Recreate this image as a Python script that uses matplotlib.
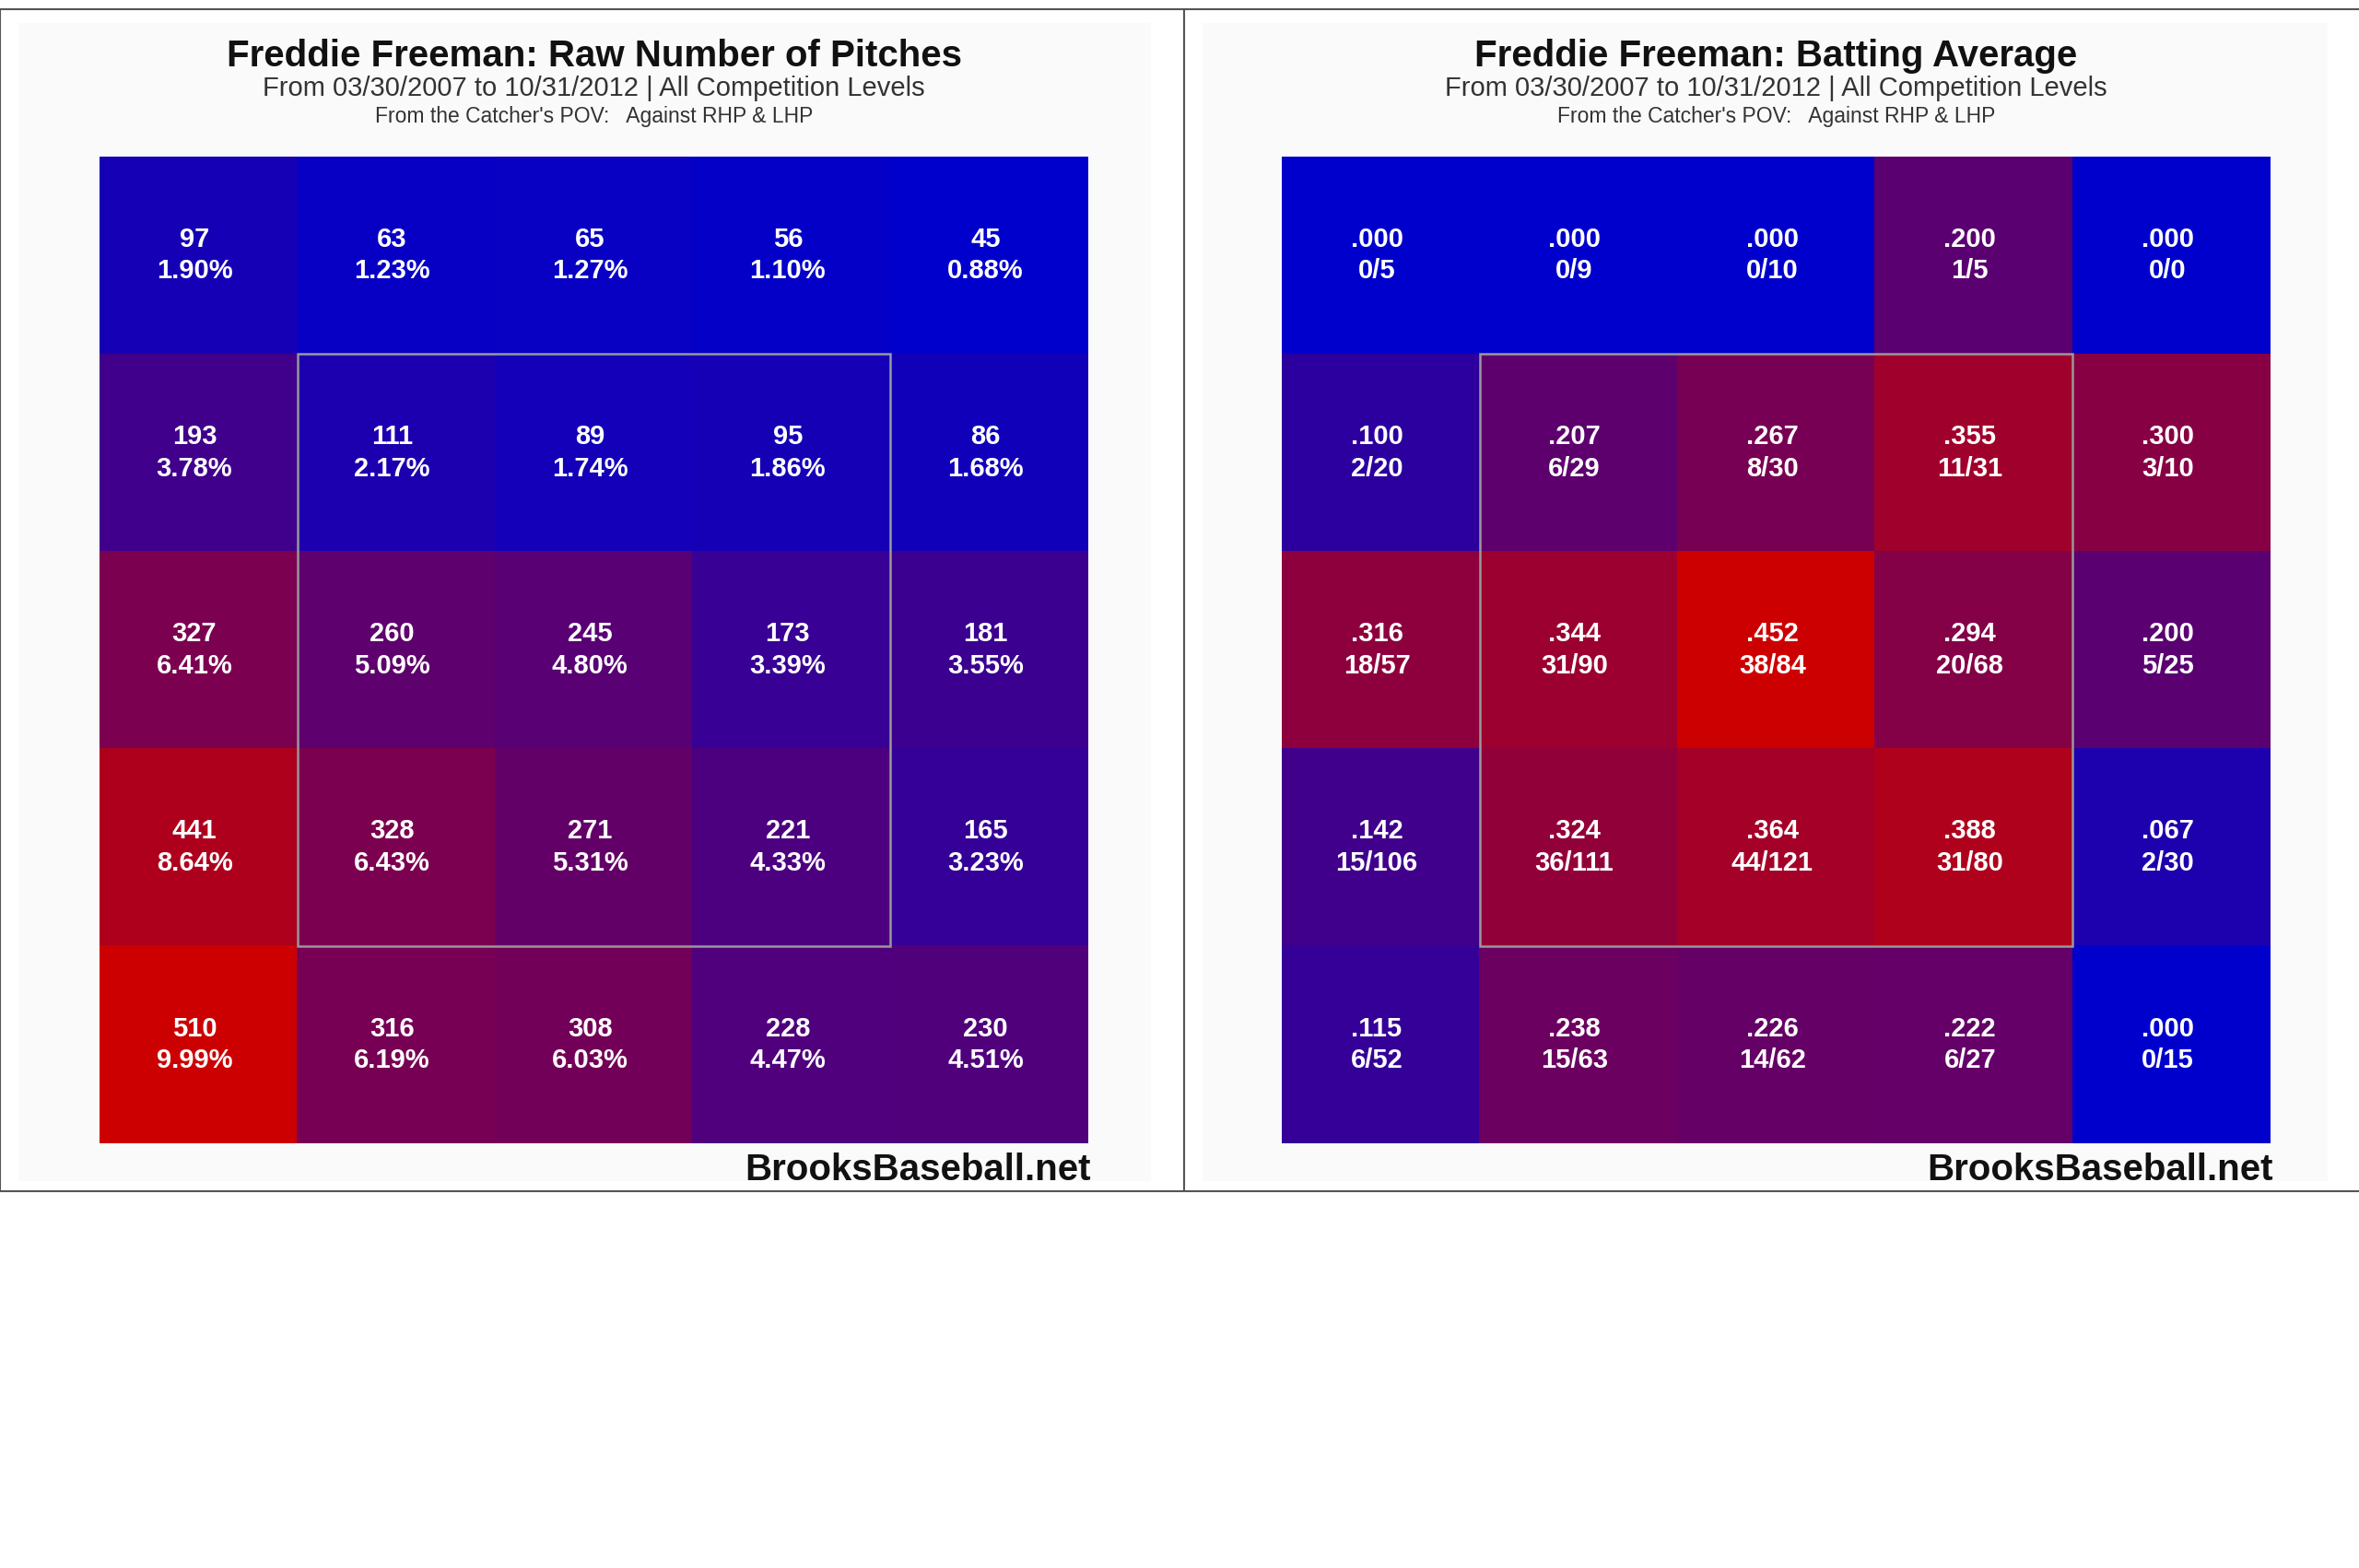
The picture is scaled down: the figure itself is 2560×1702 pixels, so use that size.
"""Freddie Freeman strike-zone heat maps (BrooksBaseball style)"""
import matplotlib
matplotlib.use("Agg")
import matplotlib.pyplot as plt
from matplotlib.colors import LinearSegmentedColormap
from matplotlib.patches import Rectangle
import numpy as np

plt.rcParams['font.family'] = ['Liberation Sans', 'DejaVu Sans']

player = "Freddie Freeman"
date_range = "From 03/30/2007 to 10/31/2012 | All Competition Levels"
pov_line = "From the Catcher's POV:   Against RHP & LHP"
credit = "BrooksBaseball.net"

# rows top -> bottom, columns left -> right (catcher's view)
pitch_counts = [
    [97, 63, 65, 56, 45],
    [193, 111, 89, 95, 86],
    [327, 260, 245, 173, 181],
    [441, 328, 271, 221, 165],
    [510, 316, 308, 228, 230],
]
hits = [
    [0, 0, 0, 1, 0],
    [2, 6, 8, 11, 3],
    [18, 31, 38, 20, 5],
    [15, 36, 44, 31, 2],
    [6, 15, 14, 6, 0],
]
at_bats = [
    [5, 9, 10, 5, 0],
    [20, 29, 30, 31, 10],
    [57, 90, 84, 68, 25],
    [106, 111, 121, 80, 30],
    [52, 63, 62, 27, 15],
]

counts = np.array(pitch_counts, dtype=float)
pcts = counts / counts.sum() * 100
h = np.array(hits, dtype=float)
ab = np.array(at_bats, dtype=float)
avg = np.divide(h, ab, out=np.zeros_like(h), where=ab > 0)

count_labels = [[f"{int(counts[r, c])}\n{pcts[r, c]:.2f}%" for c in range(5)] for r in range(5)]
avg_labels = [[f"{avg[r, c]:.3f}".lstrip('0') + f"\n{hits[r][c]}/{at_bats[r][c]}" for c in range(5)] for r in range(5)]

W, H = 2560, 1702
fig = plt.figure(figsize=(W / 100, H / 100), dpi=100)
fig.patch.set_facecolor('white')

cmap = LinearSegmentedColormap.from_list('brooks', ['#0000CC', '#CC0000'])


def fx(x):
    return x / W


def fy(y):
    return 1 - y / H


def panel(x0, x1, grid_x0, values, labels, title):
    # outer frame and faint inner background
    fig.patches.append(Rectangle((fx(x0), fy(1293)), fx(x1 - x0), (1293 - 10) / H,
                                 transform=fig.transFigure, facecolor='white',
                                 edgecolor='#555555', lw=1.5, zorder=-2))
    fig.patches.append(Rectangle((fx(x0 + 20), fy(1282)), fx(x1 - x0 - 56), (1282 - 25) / H,
                                 transform=fig.transFigure, facecolor='#fafafa',
                                 edgecolor='none', zorder=-1))
    gw = 1073
    gy0, gy1 = 170, 1241
    ax = fig.add_axes([fx(grid_x0), fy(gy1), fx(gw), (gy1 - gy0) / H])
    ax.set_zorder(2)
    ax.imshow(values, cmap=cmap, vmin=values.min(), vmax=values.max(),
              extent=(0, 5, 5, 0), aspect='auto', interpolation='nearest')
    for r in range(5):
        for c in range(5):
            ax.text(c + 0.48, r + 0.5, labels[r][c], ha='center', va='center',
                    color='white', fontsize=21, fontweight='bold', linespacing=1.3)
    ax.add_patch(Rectangle((1, 1), 3, 3, fill=False, edgecolor='#999999', lw=1.8))
    ax.set_xlim(0, 5)
    ax.set_ylim(5, 0)
    ax.axis('off')
    cx = grid_x0 + gw / 2
    fig.text(fx(cx), fy(61), f"{player}: {title}", ha='center', va='center',
             fontsize=29, fontweight='bold', color='#111111')
    fig.text(fx(cx), fy(96), date_range, ha='center', va='center',
             fontsize=21, color='#333333')
    fig.text(fx(cx), fy(127), pov_line, ha='center', va='center',
             fontsize=16.5, color='#333333')
    fig.text(fx(grid_x0 + gw + 3), fy(1270), credit, ha='right', va='center',
             fontsize=29, fontweight='bold', color='#111111')


panel(0, 1285, 108, counts, count_labels, "Raw Number of Pitches")
panel(1285, 2562, 1391, avg, avg_labels, "Batting Average")

fig.savefig('out.png', dpi=100, facecolor='white')
